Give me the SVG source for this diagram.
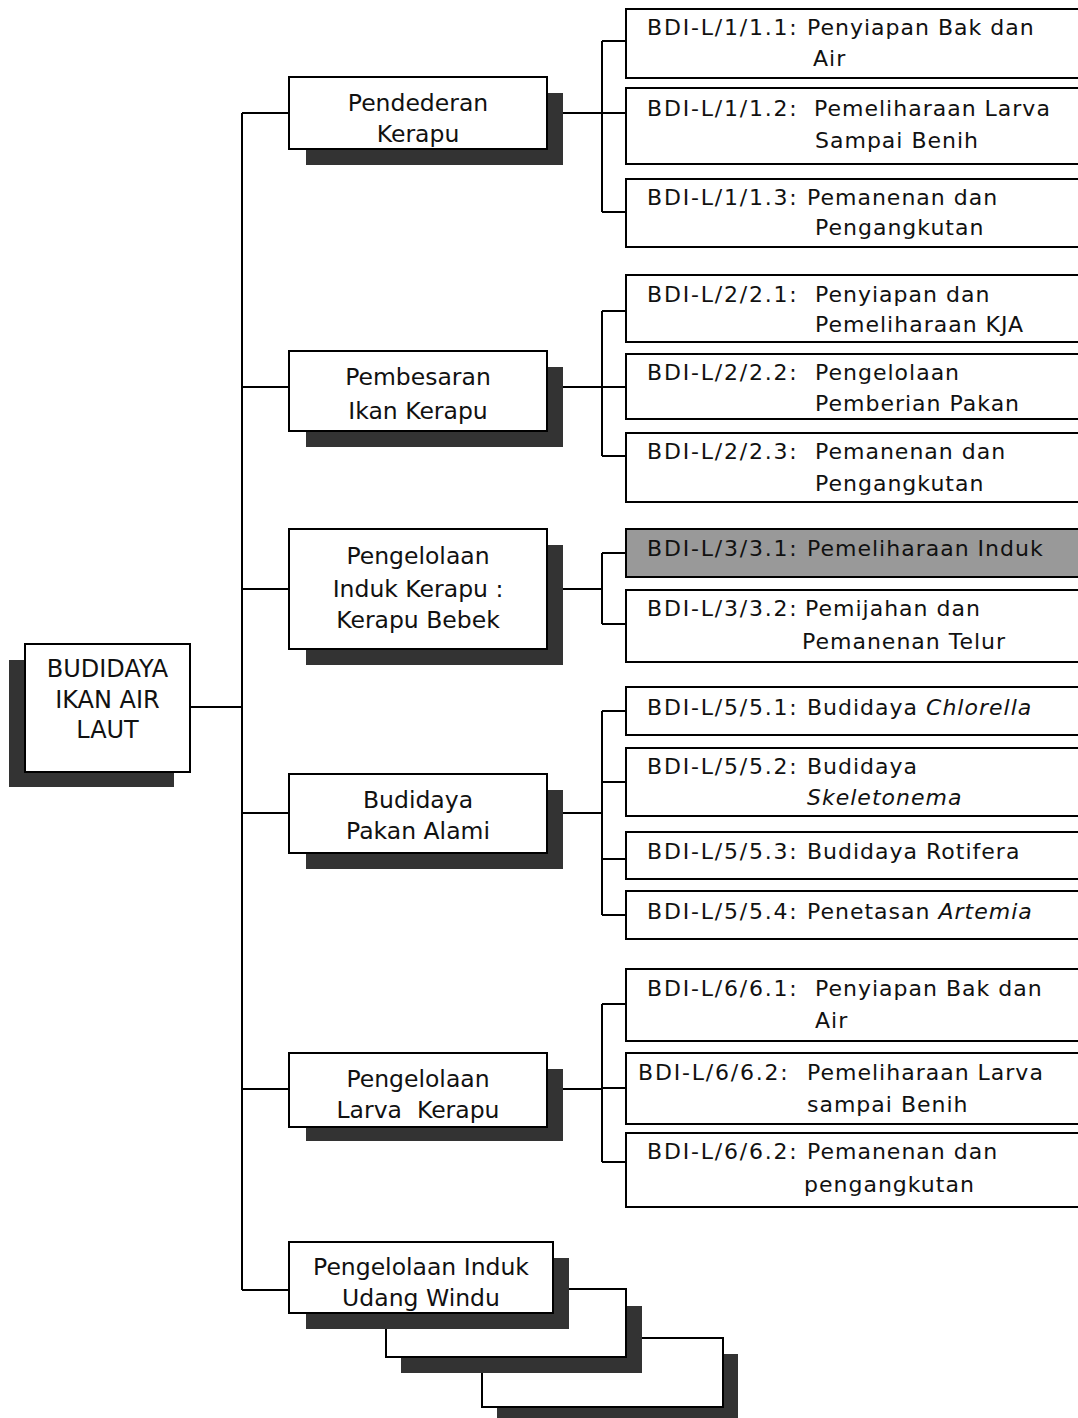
<svg xmlns="http://www.w3.org/2000/svg" width="1078" height="1418" viewBox="0 0 1078 1418">
<style>
.bg{fill:#ffffff}
.box{fill:#ffffff;stroke:#000;stroke-width:2}
.gray{fill:#999999;stroke:#000;stroke-width:2}
.sh{fill:#333333}
.ln{stroke:#000;stroke-width:2;fill:none}
.t2{font-family:"DejaVu Sans","Liberation Sans",sans-serif;font-size:23.5px;fill:#111;text-anchor:middle}
.t3{font-family:"DejaVu Sans","Liberation Sans",sans-serif;font-size:22px;fill:#111;letter-spacing:1px}
.lb{letter-spacing:1.8px}
.it{font-style:italic}
</style>
<rect class="bg" x="0" y="0" width="1078" height="1418"/>

<g id="root">
<rect class="sh" x="9" y="660" width="165" height="127"/>
<rect class="box" x="25" y="644" width="165" height="128"/>
<text class="t2" style="font-size:24px" x="107.5" y="677">BUDIDAYA</text>
<text class="t2" style="font-size:24px" x="107.5" y="708">IKAN AIR</text>
<text class="t2" style="font-size:24px" x="107.5" y="738">LAUT</text>
</g>

<g id="connectors">
<path class="ln" d="M190 707H242M242 113V1290M242 113H289M242 387H289M242 589H289M242 813H289M242 1089H289M242 1290H289"/>
<path class="ln" d="M547 113H602M602 41V212M602 41H626M602 113H626M602 212H626"/>
<path class="ln" d="M547 387H602M602 311V456M602 311H626M602 387H626M602 456H626"/>
<path class="ln" d="M547 589H602M602 553V624M602 553H626M602 624H626"/>
<path class="ln" d="M547 813H602M602 711V915M602 711H626M602 782H626M602 859H626M602 915H626"/>
<path class="ln" d="M547 1089H602M602 1004V1162M602 1004H626M602 1088H626M602 1162H626"/>
</g>

<g id="n1">
<rect class="sh" x="306" y="93" width="257" height="72"/>
<rect class="box" x="289" y="77" width="258" height="72"/>
<text class="t2" x="418" y="111">Pendederan</text>
<text class="t2" x="418" y="142">Kerapu</text>
</g>
<g id="n2">
<rect class="sh" x="306" y="367" width="257" height="80"/>
<rect class="box" x="289" y="351" width="258" height="80"/>
<text class="t2" x="418" y="385">Pembesaran</text>
<text class="t2" x="418" y="419">Ikan Kerapu</text>
</g>
<g id="n3">
<rect class="sh" x="306" y="545" width="257" height="120"/>
<rect class="box" x="289" y="529" width="258" height="120"/>
<text class="t2" x="418" y="564">Pengelolaan</text>
<text class="t2" x="418" y="597">Induk Kerapu :</text>
<text class="t2" x="418" y="628">Kerapu Bebek</text>
</g>
<g id="n4">
<rect class="sh" x="306" y="790" width="257" height="79"/>
<rect class="box" x="289" y="774" width="258" height="79"/>
<text class="t2" x="418" y="808">Budidaya</text>
<text class="t2" x="418" y="839">Pakan Alami</text>
</g>
<g id="n5">
<rect class="sh" x="306" y="1069" width="257" height="72"/>
<rect class="box" x="289" y="1053" width="258" height="74"/>
<text class="t2" x="418" y="1087">Pengelolaan</text>
<text class="t2" x="418" y="1118">Larva&#160; Kerapu</text>
</g>
<g id="n6">
<rect class="sh" x="497" y="1354" width="241" height="64"/>
<rect class="box" x="482" y="1338" width="241" height="69"/>
<rect class="sh" x="401" y="1306" width="241" height="67"/>
<rect class="box" x="386" y="1289" width="240" height="68"/>
<rect class="sh" x="306" y="1258" width="263" height="71"/>
<rect class="box" x="289" y="1242" width="264" height="71"/>
<text class="t2" x="421" y="1275">Pengelolaan Induk</text>
<text class="t2" x="421" y="1306">Udang Windu</text>
</g>

<g id="r11">
<rect class="box" x="626" y="9" width="470" height="69"/>
<text class="t3" y="35"><tspan class="lb" x="647">BDI-L/1/1.1:</tspan><tspan x="807">Penyiapan Bak dan</tspan></text>
<text class="t3" x="813" y="66">Air</text>
</g>
<g id="r12">
<rect class="box" x="626" y="88" width="470" height="76"/>
<text class="t3" y="116"><tspan class="lb" x="647">BDI-L/1/1.2:</tspan><tspan x="814">Pemeliharaan Larva</tspan></text>
<text class="t3" x="815" y="148">Sampai Benih</text>
</g>
<g id="r13">
<rect class="box" x="626" y="179" width="470" height="68"/>
<text class="t3" y="205"><tspan class="lb" x="647">BDI-L/1/1.3:</tspan><tspan x="807">Pemanenan dan</tspan></text>
<text class="t3" x="815" y="235">Pengangkutan</text>
</g>
<g id="r21">
<rect class="box" x="626" y="275" width="470" height="67"/>
<text class="t3" y="302"><tspan class="lb" x="647">BDI-L/2/2.1:</tspan><tspan x="815">Penyiapan dan</tspan></text>
<text class="t3" x="815" y="332">Pemeliharaan KJA</text>
</g>
<g id="r22">
<rect class="box" x="626" y="354" width="470" height="65"/>
<text class="t3" y="380"><tspan class="lb" x="647">BDI-L/2/2.2:</tspan><tspan x="815">Pengelolaan</tspan></text>
<text class="t3" x="815" y="411">Pemberian Pakan</text>
</g>
<g id="r23">
<rect class="box" x="626" y="433" width="470" height="69"/>
<text class="t3" y="459"><tspan class="lb" x="647">BDI-L/2/2.3:</tspan><tspan x="815">Pemanenan dan</tspan></text>
<text class="t3" x="815" y="491">Pengangkutan</text>
</g>
<g id="r31">
<rect class="gray" x="626" y="529" width="470" height="48"/>
<text class="t3" y="556"><tspan class="lb" x="647">BDI-L/3/3.1:</tspan><tspan x="807">Pemeliharaan Induk</tspan></text>
</g>
<g id="r32">
<rect class="box" x="626" y="590" width="470" height="72"/>
<text class="t3" y="616"><tspan class="lb" x="647">BDI-L/3/3.2:</tspan><tspan x="805">Pemijahan dan</tspan></text>
<text class="t3" x="802" y="649">Pemanenan Telur</text>
</g>
<g id="r51">
<rect class="box" x="626" y="687" width="470" height="48"/>
<text class="t3" y="715"><tspan class="lb" x="647">BDI-L/5/5.1:</tspan><tspan x="807">Budidaya </tspan><tspan class="it">Chlorella</tspan></text>
</g>
<g id="r52">
<rect class="box" x="626" y="748" width="470" height="68"/>
<text class="t3" y="774"><tspan class="lb" x="647">BDI-L/5/5.2:</tspan><tspan x="807">Budidaya</tspan></text>
<text class="t3 it" x="807" y="805">Skeletonema</text>
</g>
<g id="r53">
<rect class="box" x="626" y="832" width="470" height="47"/>
<text class="t3" y="859"><tspan class="lb" x="647">BDI-L/5/5.3:</tspan><tspan x="807">Budidaya Rotifera</tspan></text>
</g>
<g id="r54">
<rect class="box" x="626" y="891" width="470" height="48"/>
<text class="t3" y="919"><tspan class="lb" x="647">BDI-L/5/5.4:</tspan><tspan x="807">Penetasan </tspan><tspan class="it">Artemia</tspan></text>
</g>
<g id="r61">
<rect class="box" x="626" y="969" width="470" height="72"/>
<text class="t3" y="996"><tspan class="lb" x="647">BDI-L/6/6.1:</tspan><tspan x="815">Penyiapan Bak dan</tspan></text>
<text class="t3" x="815" y="1028">Air</text>
</g>
<g id="r62">
<rect class="box" x="626" y="1053" width="470" height="71"/>
<text class="t3" y="1080"><tspan class="lb" x="638">BDI-L/6/6.2:</tspan><tspan x="807">Pemeliharaan Larva</tspan></text>
<text class="t3" x="807" y="1112">sampai Benih</text>
</g>
<g id="r63">
<rect class="box" x="626" y="1133" width="470" height="74"/>
<text class="t3" y="1159"><tspan class="lb" x="647">BDI-L/6/6.2:</tspan><tspan x="807">Pemanenan dan</tspan></text>
<text class="t3" x="804" y="1192">pengangkutan</text>
</g>
</svg>
